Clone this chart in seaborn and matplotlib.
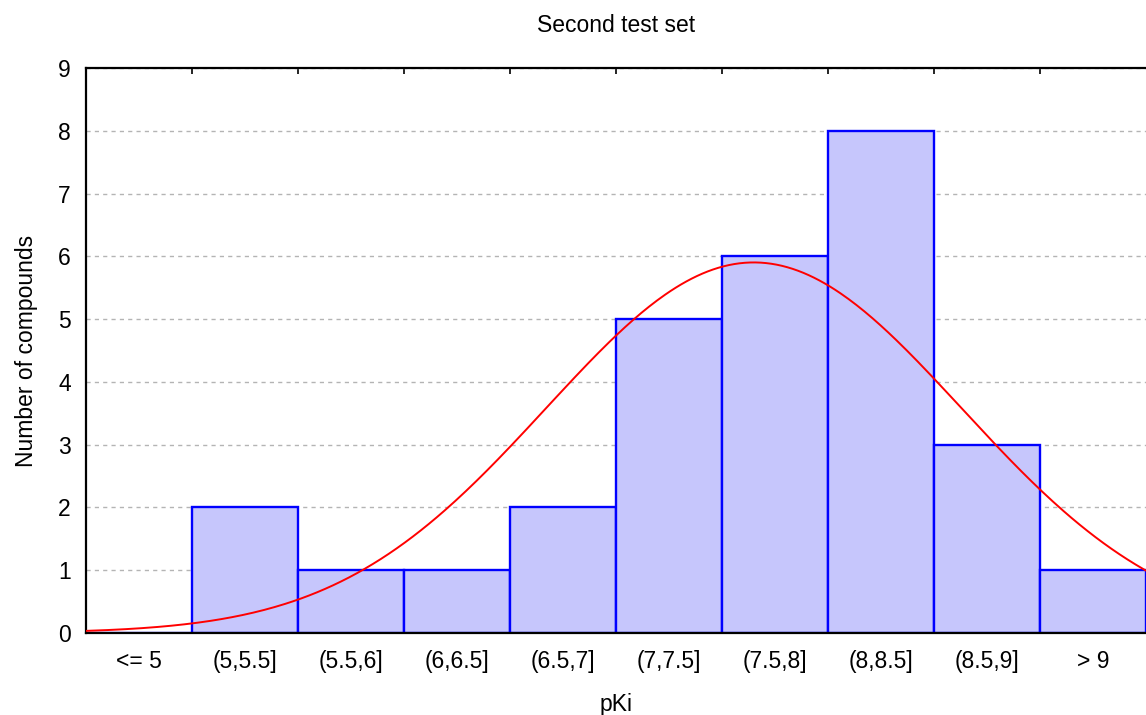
import numpy as np
import pandas as pd
import matplotlib
matplotlib.use("Agg")
import matplotlib.pyplot as plt
import seaborn as sns

categories = ["<= 5", "(5,5.5]", "(5.5,6]", "(6,6.5]", "(6.5,7]",
              "(7,7.5]", "(7.5,8]", "(8,8.5]", "(8.5,9]", "> 9"]
counts = [0, 2, 1, 1, 2, 5, 6, 8, 3, 1]
bin_lo = 4.5          # left edge of first bin (pKi)
bin_width = 0.5
fit_mean = 7.65
fit_sd = 0.98

sns.set_theme(style="white")
plt.rcParams['font.family'] = ['Liberation Sans', 'DejaVu Sans']
plt.rcParams['text.color'] = 'black'
plt.rcParams['axes.labelcolor'] = 'black'
plt.rcParams['xtick.color'] = 'black'
plt.rcParams['ytick.color'] = 'black'

fig = plt.figure(figsize=(11.46, 7.15), dpi=100)
ax = fig.add_axes([0.075, 0.1147, 0.925, 0.7902])

df = pd.DataFrame({"cat": categories, "n": counts})
sns.barplot(data=df, x="cat", y="n", ax=ax, width=1.0, color="#c6c6fc",
            saturation=1, edgecolor="#0000ff", linewidth=1.7, zorder=2)
for p in ax.patches:
    p.set_facecolor("#c6c6fc")
    p.set_edgecolor("#0000ff")

# fitted normal curve (expected counts per bin)
n_total = sum(counts)
xv = np.linspace(bin_lo, bin_lo + bin_width * len(categories), 400)
yv = n_total * bin_width / (fit_sd * np.sqrt(2 * np.pi)) * np.exp(-0.5 * ((xv - fit_mean) / fit_sd) ** 2)
xpos = (xv - bin_lo) / bin_width - 0.5
sns.lineplot(x=xpos, y=yv, ax=ax, color="#ff0000", linewidth=1.4, zorder=3)

ax.set_xlim(-0.5, len(categories) - 0.5)
ax.set_ylim(0, 9)
ax.set_yticks(range(0, 10))
ax.yaxis.grid(True, linestyle=(0, (3, 3)), color="#b4b4b4", linewidth=1.0)
ax.set_axisbelow(True)

# ticks at bin boundaries, labels at bin centres
ax.set_xticks(np.arange(0.5, len(categories) - 0.5, 1.0))
ax.set_xticklabels([])
ax.set_xticks(np.arange(len(categories)), minor=True)
ax.set_xticklabels(categories, minor=True, fontsize=16.5)
ax.tick_params(axis="x", which="major", direction="in", length=4, width=1.2,
               top=True, bottom=True, colors="black")
ax.tick_params(axis="x", which="minor", length=0, pad=12, labelcolor="black")
ax.tick_params(axis="y", direction="in", length=3, width=1.2, labelsize=16.5,
               pad=11, labelcolor="black")

for s in ["left", "bottom", "top"]:
    ax.spines[s].set_visible(True)
    ax.spines[s].set_color("black")
    ax.spines[s].set_linewidth(1.6)
ax.spines["right"].set_visible(False)

ax.set_title("Second test set", fontsize=16.5, pad=26, color="black")
ax.set_xlabel("pKi", fontsize=16.5, labelpad=15, color="black")
ax.set_ylabel("Number of compounds", fontsize=16.5, labelpad=14, color="black")

fig.savefig("out.png", dpi=100)
